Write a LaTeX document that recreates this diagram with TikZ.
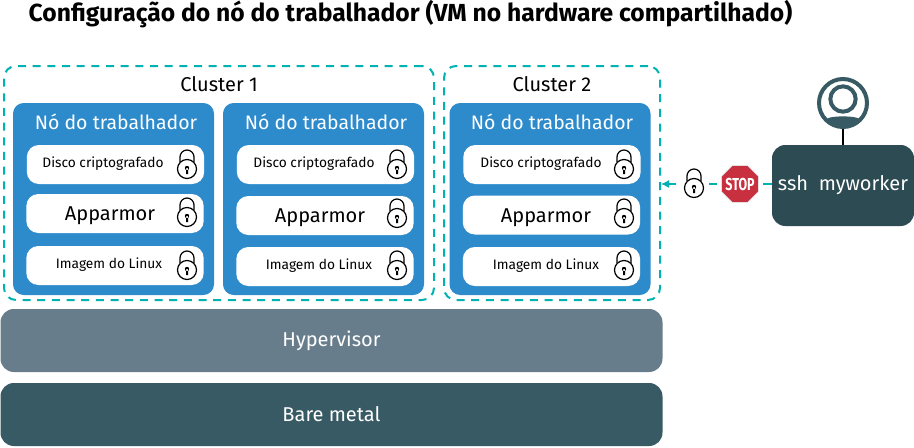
\documentclass[tikz,border=0pt]{standalone}
\usepackage{fontspec}
\setmainfont{Fira Sans}
\usepackage{tikz}
\usetikzlibrary{arrows.meta}
\usetikzlibrary{shapes.geometric}
\definecolor{workerblue}{HTML}{2D8BCC}
\definecolor{clusterteal}{HTML}{00B2B2}
\definecolor{hyperslate}{HTML}{687D8C}
\definecolor{metalteal}{HTML}{375A64}
\definecolor{sshteal}{HTML}{2D4B53}
\definecolor{stopred}{HTML}{C8303F}
\tikzset{
    cluster/.style={draw=clusterteal,line width=1.5pt,dash pattern=on 6pt off 5pt,rounded corners=9pt,minimum height=175.5pt},
    worker/.style={fill=workerblue,rounded corners=8pt,minimum width=150.75pt,minimum height=144pt},
    layerbox/.style={draw=none,rounded corners=10pt,minimum width=496.5pt,minimum height=47.25pt,text=white,font=\fontsize{15}{17}\selectfont},
    inner/.style={fill=white,rounded corners=9pt,minimum width=133pt,minimum height=29.25pt},
    small/.style={font=\fontsize{10.3}{12}\selectfont},
    big/.style={font=\fontsize{15}{17}\selectfont},
    workertext/.style={text=white,font=\fontsize{14.6}{18}\selectfont},
    padlock/.pic={
        \draw[black,line width=.9pt] (-7,-3) -- (-7,-8) arc[start angle=180,end angle=0,x radius=7,y radius=-7] -- (7,-3);
        \draw[black,line width=.9pt,fill=white] (0,4) circle (9.5);
        \fill[black] (0,3) circle (2.2) (-1,3) rectangle (1,9);
    },
}
\begin{document}
\begin{tikzpicture}[x=.75pt,y=-.75pt]
    \useasboundingbox (0,0) rectangle (914,447);

    % title
    \node[anchor=west,font=\bfseries\fontsize{18.5}{20}\selectfont] (title) at (24,14) {Configuração do nó do trabalhador (VM no hardware compartilhado)};

    % clusters
    \node[cluster,minimum width=322.5pt] (c1) at (219,183) {};
    \node[cluster,minimum width=162pt] (c2) at (552,183) {};
    \node[big] (c1label) at (219,84) {Cluster 1};
    \node[big] (c2label) at (552,84) {Cluster 2};

    % worker nodes
    \node[worker] (w1) at (113.5,199) {};
    \node[worker] (w2) at (323.5,199) {};
    \node[worker] (w3) at (550,199) {};
    \node[workertext] (w1label) at (116,122) {Nó do trabalhador};
    \node[workertext] (w2label) at (326,122) {Nó do trabalhador};
    \node[workertext] (w3label) at (552,122) {Nó do trabalhador};

    % layers of worker 1
    \node[inner] (d1) at (115.5,164.5) {};
    \node[inner] (a1) at (115,213.5) {};
    \node[inner] (i1) at (115,265.5) {};
    \node[small] (d1text) at (103,164) {Disco criptografado};
    \node[big] (a1text) at (110,216) {Apparmor};
    \node[small] (i1text) at (109,265) {Imagem do Linux};
    \pic (l1) at (187,165) {padlock};
    \pic (l2) at (187,213) {padlock};
    \pic (l3) at (187,266) {padlock};

    % layers of worker 2
    \node[inner] (d2) at (325.5,164.5) {};
    \node[inner] (a2) at (325,215.5) {};
    \node[inner] (i2) at (325,266.5) {};
    \node[small] (d2text) at (314,164) {Disco criptografado};
    \node[big] (a2text) at (320,218) {Apparmor};
    \node[small] (i2text) at (319,266) {Imagem do Linux};
    \pic (l4) at (397,165) {padlock};
    \pic (l5) at (397,214) {padlock};
    \pic (l6) at (397,266) {padlock};

    % layers of worker 3
    \node[inner] (d3) at (552,164.5) {};
    \node[inner] (a3) at (551.5,215) {};
    \node[inner] (i3) at (551.5,266.5) {};
    \node[small] (d3text) at (541,164) {Disco criptografado};
    \node[big] (a3text) at (546,218) {Apparmor};
    \node[small] (i3text) at (546,266) {Imagem do Linux};
    \pic (l7) at (624,165) {padlock};
    \pic (l8) at (624,214) {padlock};
    \pic (l9) at (624,266) {padlock};

    % hypervisor and bare metal
    \node[layerbox,fill=hyperslate] (hyper) at (331.5,340.5) {\raisebox{-1.5pt}{Hypervisor}};
    \node[layerbox,fill=metalteal] (metal) at (331.5,414.5) {\raisebox{-1.5pt}{Bare metal}};

    % ssh user
    \node[fill=sshteal,rounded corners=10pt,minimum width=106.5pt,minimum height=60.75pt,text=white,big] (ssh) at (843,185.5) {ssh\ \ myworker};
    \node[circle,draw=metalteal,line width=3pt,minimum size=36pt,inner sep=0pt] (user) at (843,103) {};
    \fill[metalteal] (859.5,119) .. controls (856,115.5) and (830,115.5) .. (826.5,119) arc[start angle=-136,end angle=-44,x radius=23,y radius=-23] -- cycle;
    \node[circle,draw=metalteal,line width=3pt,minimum size=19pt,inner sep=0pt] (head) at (843,99) {};
    \draw[black,line width=.8pt] (user) -- (ssh);

    % blocked access
    \node[regular polygon,regular polygon sides=8,fill=stopred,draw=black!12,line width=.6pt,minimum size=30pt,inner sep=0pt] (stop) at (740,184) {};
    \node[text=white,inner sep=0pt,font=\bfseries\fontsize{13}{14}\selectfont] (stoptext) at (740,184) {\scalebox{.72}[1]{STOP}};
    \pic (l10) at (694,184) {padlock};
    \coordinate (stopout) at (763,184);
    \coordinate (stopin) at (717,184);
    \coordinate (lockin) at (709,184);
    \coordinate (lockout) at (676,184);
    \coordinate (edge) at (661,184);
    \draw[clusterteal,line width=1pt] (ssh.west |- stop) -- (stopout);
    \draw[clusterteal,line width=1pt] (stopin) -- (lockin);
    \draw[-{Latex[length=6pt,width=6pt]},clusterteal,line width=1pt] (lockout) -- (edge);

\end{tikzpicture}
\end{document}
